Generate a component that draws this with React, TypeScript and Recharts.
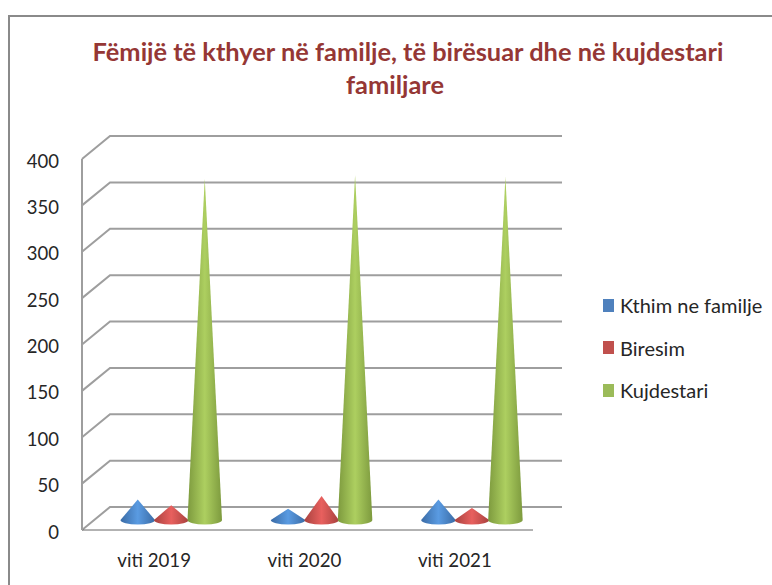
import { Bar, BarChart, CartesianGrid, Legend, XAxis, YAxis } from "recharts";

const categories = ["viti 2019", "viti 2020", "viti 2021"];
const kthim = [22, 12, 22];
const biresim = [16, 26, 13];
const kujdestari = [368, 372, 370];
const yTicks = [0, 50, 100, 150, 200, 250, 300, 350, 400];

const seriesNames = ["Kthim ne familje", "Biresim", "Kujdestari"];
const seriesColors = ["#4f81bd", "#c0504d", "#9bbb59"];

const data = categories.map((name, i) => ({
  name,
  kthim: kthim[i],
  biresim: biresim[i],
  kujdestari: kujdestari[i],
}));

const font = "Lato, sans-serif";
const gridColor = "#9e9e9e";
const depthX = 28;
const depthY = 23;
const coneLift = 10;

// cones stand partway into the fake 3D floor
function Cone(props: any) {
  const { x, y, width, height, gradient } = props;
  const cx = x + width / 2 + depthX / 2;
  const base = y + height - coneLift;
  const tip = y - coneLift;
  const half = width / 2 + 0.5;
  const ry = 4.5;
  return (
    <path
      d={`M${cx} ${tip} L${cx + half} ${base} A${half} ${ry} 0 0 1 ${cx - half} ${base} Z`}
      fill={`url(#${gradient})`}
      stroke="none"
    />
  );
}

function GridLine(props: any) {
  const { x1, x2, y1 } = props;
  return (
    <path
      d={`M${x1} ${y1} L${x1 + depthX} ${y1 - depthY} L${x2 + depthX + 1} ${y1 - depthY}`}
      fill="none"
      stroke={gridColor}
      strokeWidth={2}
    />
  );
}

function FloorFront(props: any) {
  const { x, y, width } = props;
  return (
    <path
      d={`M${x} ${y} L${x + width} ${y} L${x + width + depthX + 1} ${y - depthY}`}
      fill="none"
      stroke={gridColor}
      strokeWidth={2}
    />
  );
}

function LegendList() {
  return (
    <div style={{ fontFamily: font, fontSize: 20, color: "#262626" }}>
      {seriesNames.map((name, i) => (
        <div key={name} style={{ display: "flex", alignItems: "center", height: 42.5 }}>
          <span
            style={{
              width: 11,
              height: 13,
              background: seriesColors[i],
              marginRight: 6,
              display: "inline-block",
            }}
          />
          {name}
        </div>
      ))}
    </div>
  );
}

export default function App() {
  return (
    <div style={{ position: "absolute", left: 0, top: 0, width: 772, height: 585, overflow: "hidden", background: "#fff" }}>
      <div
        style={{
          position: "absolute",
          left: 8,
          top: 15,
          width: 900,
          height: 800,
          border: "2px solid #8a8a8a",
        }}
      />
      <div
        style={{
          position: "absolute",
          left: 60,
          top: 35,
          width: 696,
          textAlign: "center",
          fontFamily: font,
          fontWeight: 700,
          fontSize: 25.4,
          lineHeight: "33px",
          color: "#953735",
        }}
      >
        Fëmijë të kthyer në familje, të birësuar dhe në kujdestari
        <br />
        <span style={{ position: "relative", left: -13 }}>familjare</span>
      </div>
      <div style={{ position: "absolute", left: 0, top: 0 }}>
        <BarChart
          width={772}
          height={585}
          data={data}
          margin={{ top: 159, right: 70, bottom: 0, left: 0 }}
          barCategoryGap={25}
          barGap={0}
          style={{ fontFamily: font }}
        >
          <defs>
            <linearGradient id="coneBlue" x1="0" x2="1" y1="0" y2="0">
              <stop offset="0" stopColor="#3a6ba5" />
              <stop offset="0.5" stopColor="#5a9be2" />
              <stop offset="1" stopColor="#3a6ba5" />
            </linearGradient>
            <linearGradient id="coneRed" x1="0" x2="1" y1="0" y2="0">
              <stop offset="0" stopColor="#a8423f" />
              <stop offset="0.5" stopColor="#e8605e" />
              <stop offset="1" stopColor="#a8423f" />
            </linearGradient>
            <linearGradient id="coneGreen" x1="0" x2="1" y1="0" y2="0">
              <stop offset="0" stopColor="#7d9a3e" />
              <stop offset="0.5" stopColor="#adcf60" />
              <stop offset="1" stopColor="#7d9a3e" />
            </linearGradient>
          </defs>
          <CartesianGrid vertical={false} horizontal={(p: any) => <GridLine key={p.y1} {...p} />} />
          <XAxis
            dataKey="name"
            height={55}
            tickLine={false}
            axisLine={<FloorFront />}
            tick={{ fill: "#262626", fontSize: 18.7, dx: -3 }}
            tickMargin={18}
          />
          <YAxis
            width={82}
            domain={[0, 400]}
            ticks={yTicks}
            interval={0}
            tickLine={false}
            axisLine={{ stroke: gridColor, strokeWidth: 2 }}
            tick={{ fill: "#262626", fontSize: 18.5, dy: 2 }}
            tickMargin={17}
          />
          <Bar dataKey="kthim" name={seriesNames[0]} fill={seriesColors[0]} barSize={33.5} isAnimationActive={false} shape={<Cone gradient="coneBlue" />} />
          <Bar dataKey="biresim" name={seriesNames[1]} fill={seriesColors[1]} barSize={33.5} isAnimationActive={false} shape={<Cone gradient="coneRed" />} />
          <Bar dataKey="kujdestari" name={seriesNames[2]} fill={seriesColors[2]} barSize={33.5} isAnimationActive={false} shape={<Cone gradient="coneGreen" />} />
          <Legend
            layout="vertical"
            align="right"
            verticalAlign="middle"
            content={<LegendList />}
            wrapperStyle={{ position: "absolute", left: 603, top: 284, width: 169 }}
          />
        </BarChart>
      </div>
    </div>
  );
}
